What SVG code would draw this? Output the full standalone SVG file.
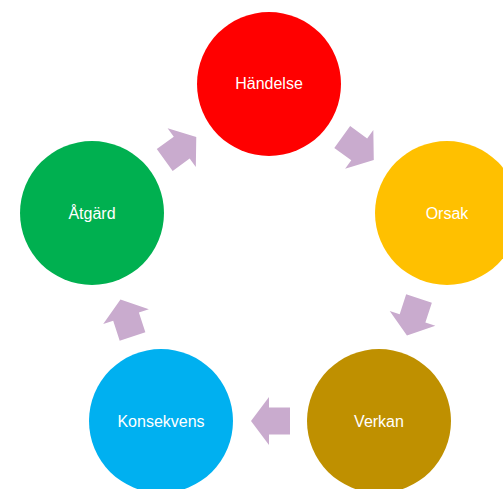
<svg xmlns="http://www.w3.org/2000/svg" width="503" height="489" viewBox="0 0 503 489">
<style>
.lbl{font-family:"Liberation Sans",Arial,sans-serif;font-size:16px;fill:#FFFFFF;text-anchor:middle;dominant-baseline:central}
.arr{fill:#C9ABCE}
</style>
<defs>
<polygon id="arrow" points="-19.5,-13.5 1.5,-13.5 1.5,-24 19.5,0 1.5,24 1.5,13.5 -19.5,13.5"/>
</defs>
<rect width="503" height="489" fill="#FFFFFF"/>
<g id="connectors">
<use href="#arrow" class="arr" transform="translate(180.5,148.5) rotate(-36)"/>
<use href="#arrow" class="arr" transform="translate(358,148.5) rotate(36)"/>
<use href="#arrow" class="arr" transform="translate(413,317) rotate(108)"/>
<use href="#arrow" class="arr" transform="translate(270.5,421) rotate(180)"/>
<use href="#arrow" class="arr" transform="translate(126.5,318) rotate(252)"/>
</g>
<g id="handelse"><circle cx="269" cy="84" r="72" fill="#FF0000"/><text class="lbl" x="269" y="83">Händelse</text></g>
<g id="orsak"><circle cx="447" cy="213" r="72" fill="#FFC000"/><text class="lbl" x="447" y="213">Orsak</text></g>
<g id="verkan"><circle cx="379" cy="421" r="72" fill="#BF9000"/><text class="lbl" x="379" y="421">Verkan</text></g>
<g id="konsekvens"><circle cx="161" cy="421" r="72" fill="#00B0F0"/><text class="lbl" x="161" y="421">Konsekvens</text></g>
<g id="atgard"><circle cx="92" cy="213" r="72" fill="#00B050"/><text class="lbl" x="92" y="213">Åtgärd</text></g>
</svg>
